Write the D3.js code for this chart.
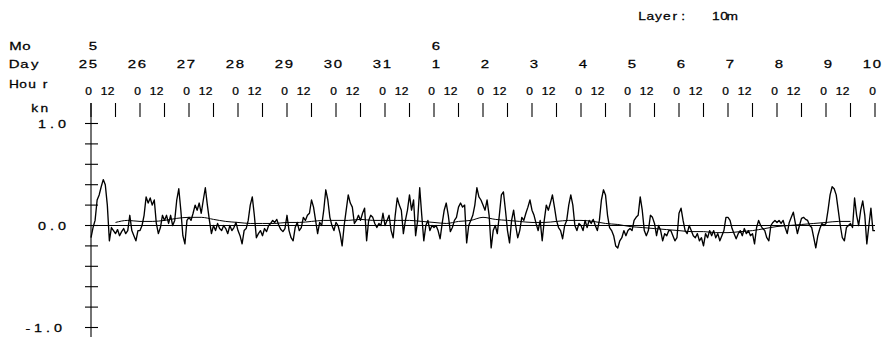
<!DOCTYPE html>
<html><head><meta charset="utf-8">
<script src="https://cdn.jsdelivr.net/npm/d3@7"></script>
<style>body{margin:0;background:#fff}svg{display:block}text{font-family:"Liberation Sans",Arial,sans-serif;fill:#000;stroke:#000;stroke-width:0.25px}</style>
</head><body><svg id="c" width="885" height="347"></svg>
<script>
// ---- data ----
const monthLabels = [{day: 0, label: "5"}, {day: 7, label: "6"}];
const dayLabels = ["25","26","27","28","29","30","31","1","2","3","4","5","6","7","8","9","10"];
const hourLabels = ["0", "12"];
const yTickLabels = [{v: 1.0, label: "1.0"}, {v: 0.0, label: "0.0"}, {v: -1.0, label: "-1.0"}];
const layerTitle = "Layer:   10m";
// hourly current speed (kn), from 25 May 00h to 10 Jun 00h
const may25 = [-0.12,-0.02,0.05,0.25,0.3,0.38,0.45,0.4,0.2,-0.15,-0.02,-0.05,-0.08,-0.04,-0.1,-0.06,-0.03,-0.08,-0.05,0.1,-0.05,-0.1,-0.15,-0.05];
const may26 = [-0.05,0.0,0.1,0.28,0.22,0.27,0.2,0.25,0.02,-0.08,-0.02,0.1,0.05,0.1,0.02,0.1,0.0,0.05,0.25,0.36,0.15,-0.1,-0.18,0.05];
const may27 = [0.08,0.05,0.12,0.2,0.15,0.22,0.12,0.25,0.37,0.2,0.05,-0.08,0.0,-0.05,0.02,-0.03,-0.05,0.0,-0.03,-0.08,0.0,-0.05,-0.02,0.03];
const may28 = [-0.05,-0.1,-0.18,-0.05,-0.03,0.05,0.2,0.28,0.1,-0.12,-0.08,-0.05,-0.1,-0.03,-0.06,0.0,0.02,0.05,0.03,0.06,0.0,-0.04,-0.06,-0.03];
const may29 = [0.1,-0.05,-0.12,-0.15,-0.02,0.03,-0.05,-0.02,0.08,0.05,0.1,0.12,0.25,0.18,0.05,-0.08,0.03,0.0,0.15,0.35,0.25,0.08,0.0,-0.05];
const may30 = [0.03,0.0,-0.08,-0.2,0.0,0.15,0.3,0.22,0.18,0.02,0.05,0.1,0.05,0.12,0.17,-0.15,0.05,0.1,0.08,0.02,-0.02,0.02,0.0,0.12];
const may31 = [0.0,0.05,0.1,-0.05,-0.12,0.1,0.27,0.2,0.15,-0.08,0.05,0.15,0.3,0.15,0.25,-0.1,0.05,0.37,0.1,-0.15,0.0,0.05,-0.05,0.0];
const jun01 = [-0.02,0.0,-0.05,-0.13,0.02,0.15,0.22,0.1,-0.06,-0.02,0.05,0.08,0.18,0.22,0.18,0.2,-0.17,0.0,0.05,0.1,0.2,0.37,0.28,0.25];
const jun02 = [0.2,0.15,0.25,0.1,-0.22,-0.05,0.0,-0.08,0.1,0.3,0.33,0.15,-0.05,-0.17,0.05,0.15,0.0,-0.12,-0.05,0.08,0.05,0.12,0.18,0.25];
const jun03 = [0.15,0.1,0.02,-0.05,0.05,-0.15,0.05,0.2,0.15,0.22,0.3,0.18,0.05,-0.02,-0.05,-0.13,0.0,0.05,0.2,0.3,0.2,0.0,-0.05,0.02];
const jun04 = [0.0,-0.05,0.05,-0.02,0.05,0.02,0.06,0.0,-0.05,0.05,0.25,0.35,0.3,0.1,-0.02,-0.05,-0.1,-0.2,-0.22,-0.15,-0.12,-0.05,-0.1,-0.05];
const jun05 = [-0.03,-0.05,0.05,0.08,0.1,0.28,0.15,-0.05,-0.1,-0.05,0.1,0.08,0.02,-0.1,0.0,-0.05,-0.15,-0.08,-0.1,-0.05,-0.05,-0.1,-0.15,-0.12];
const jun06 = [0.12,0.17,0.05,-0.05,-0.08,0.0,-0.05,-0.1,-0.12,-0.08,-0.15,-0.12,-0.2,-0.08,-0.12,-0.05,-0.1,-0.05,-0.12,-0.08,-0.15,-0.1,-0.05,0.08];
const jun07 = [0.08,0.05,-0.03,-0.08,-0.13,-0.08,-0.05,-0.1,-0.03,-0.08,-0.05,-0.1,-0.08,-0.18,-0.02,0.05,0.0,-0.03,-0.05,-0.12,-0.15,0.0,0.03,0.05];
const jun08 = [0.03,0.05,0.02,0.05,-0.02,-0.08,0.03,0.08,0.13,0.02,-0.08,0.0,0.07,0.08,0.06,0.05,0.0,-0.02,-0.12,-0.22,-0.1,-0.03,0.02,0.0];
const jun09 = [0.02,0.15,0.3,0.38,0.36,0.3,0.15,0.0,-0.12,-0.15,-0.02,0.0,0.02,-0.02,0.27,0.1,0.0,0.15,0.24,0.1,-0.18,0.0,0.17,-0.05];
const jun10 = [-0.05];
// low-pass (tidally filtered) series, every 6 h from 25 May 12h
const smooth = [0.03,0.05,0.04,0.04,0.05,0.07,0.08,0.08,0.06,0.04,0.03,0.02,0.02,0.02,0.03,0.03,0.04,0.05,0.05,0.05,0.06,0.05,0.05,0.05,0.05,0.04,0.03,0.02,0.04,0.05,0.08,0.06,0.05,0.04,0.03,0.03,0.04,0.05,0.05,0.04,0.02,0.01,-0.01,-0.02,-0.03,-0.04,-0.05,-0.06,-0.06,-0.07,-0.07,-0.06,-0.05,-0.03,-0.01,0.0,0.01,0.02,0.03,0.04,0.04];

const raw = [].concat(may25,may26,may27,may28,may29,may30,may31,jun01,jun02,jun03,jun04,jun05,jun06,jun07,jun08,jun09,jun10);
const totalHours = 384;

// ---- drawing ----
const svg = d3.select("#c");
const x = d3.scaleLinear().domain([0, totalHours]).range([91, 875]);
const y = d3.scaleLinear().domain([-1, 1]).range([327.5, 123.5]);

function cellText(str, xpos, ypos, o) {
  const n = str.length, w = n * o.cell;
  const x0 = o.anchor === "end" ? xpos - w : (o.anchor === "middle" ? xpos - w / 2 : xpos);
  const g = svg.append("g");
  for (let i = 0; i < n; i++) {
    const ch = str[i];
    if (ch === " ") continue;
    g.append("text")
      .attr("transform", `translate(${x0 + o.cell * (i + 0.5)},${ypos}) scale(${o.sx},1)`)
      .attr("text-anchor", "middle")
      .attr("font-size", o.size)
      .text(ch);
  }
}

// header row titles
cellText("Mo", 10, 50, {cell: 11, sx: 1.3, size: 11.5});
cellText("Day", 9, 67.5, {cell: 10.3, sx: 1.3, size: 11.5});
cellText("Hou", 9.5, 88, {cell: 9, sx: 1.25, size: 11});
cellText("r", 40.5, 88, {cell: 9, sx: 1.25, size: 11});
cellText("kn", 30, 112, {cell: 9.5, sx: 1.25, size: 11});
cellText(layerTitle, 638, 19.5, {cell: 8.2, sx: 1.25, size: 11});

// month and day labels
monthLabels.forEach(m => cellText(m.label, x(m.day * 24) + 7, 50, {cell: 10, sx: 1.3, size: 11.5, anchor: "end"}));
dayLabels.forEach((d, i) => cellText(d, x(i * 24) + 7, 67.5, {cell: 10, sx: 1.3, size: 11.5, anchor: "end"}));

// hour ticks and labels
const hourTicks = d3.range(0, totalHours + 1, 12);
svg.append("g").selectAll("line").data(hourTicks).join("line")
  .attr("x1", d => x(d)).attr("x2", d => x(d))
  .attr("y1", 103).attr("y2", 117)
  .attr("stroke", "#000").attr("stroke-width", 1.1);
hourTicks.forEach(h => {
  const lab = hourLabels[(h / 12) % 2];
  const off = lab === "0" ? 1 : -0.8;
  cellText(lab, x(h) + off, 95, {cell: 7, sx: 1.2, size: 10, anchor: "end"});
});

// y axis
svg.append("line").attr("x1", 91).attr("x2", 91).attr("y1", 103).attr("y2", 337)
  .attr("stroke", "#000").attr("stroke-width", 1.1);
const yTicks = d3.range(-5, 6).map(k => k * 0.2);
svg.append("g").selectAll("line").data(yTicks).join("line")
  .attr("x1", 85).attr("x2", 98)
  .attr("y1", d => y(d)).attr("y2", d => y(d))
  .attr("stroke", "#000").attr("stroke-width", 1.1);
yTickLabels.forEach(t => {
  const right = t.label.startsWith("-") ? 63 : 67;
  cellText(t.label, right, y(t.v) + 4, {cell: 10, sx: 1.25, size: 11.5, anchor: "end"});
});

// zero line
svg.append("line").attr("x1", x(0)).attr("x2", x(totalHours)).attr("y1", y(0)).attr("y2", y(0))
  .attr("stroke", "#000").attr("stroke-width", 1);

// smoothed series
const smoothLine = d3.line().x((d, i) => x(12 + i * 6)).y(d => y(d)).curve(d3.curveMonotoneX);
svg.append("path").datum(smooth).attr("d", smoothLine)
  .attr("fill", "none").attr("stroke", "#000").attr("stroke-width", 1);

// raw series
const rawLine = d3.line().x((d, i) => x(i)).y(d => y(d));
svg.append("path").datum(raw).attr("d", rawLine)
  .attr("fill", "none").attr("stroke", "#000").attr("stroke-width", 1.35).attr("stroke-linejoin", "round");
</script></body></html>
